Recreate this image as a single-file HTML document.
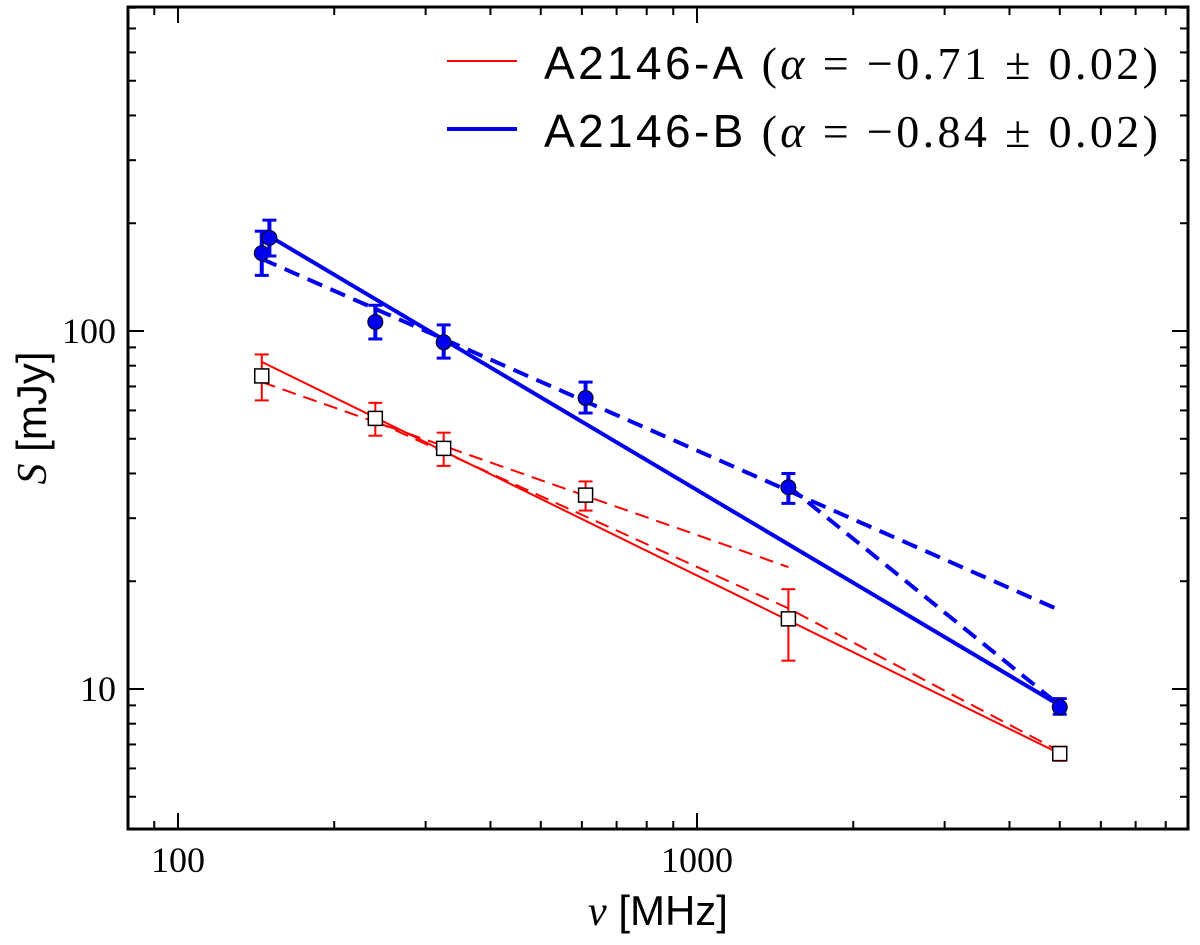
<!DOCTYPE html>
<html><head><meta charset="utf-8"><style>
body{margin:0;background:#fff;}
svg text{font-family:"Liberation Serif",serif;}
</style></head><body>
<svg id="chart" width="1200" height="940" xmlns="http://www.w3.org/2000/svg">
<g id="plot"></g>
</svg>
<script>
const freqs=[145,240,325,610,1500,5000];
const redVals=[74.9,57,47,34.8,15.7,6.6];
const redLo=[64,51,42,31.5,12,6.3];
const redHi=[86,63,52,38,19,6.9];
const blueFreqs=[145,150,240,325,610,1500,5000];
const blueVals=[165,182,106,93,65,36.6,8.9];
const blueLo=[143,162,95,84,59,33,8.5];
const blueHi=[190,204,118,104,72,40,9.4];
const redFit=[[145,82],[5000,6.6]];
const blueFit=[[150,184],[5000,9.0]];
const redDash1=[[145,72],[1500,21.9]];
const redDash2=[[240,56],[1500,16.8],[5000,6.7]];
const blueDash1=[[145,159],[5000,16.6]];
const blueDash2=[[1500,36.8],[5000,9.0]];
const xTicks=[100,1000];
const yTicks=[10,100];

const L=128,R=1188,T=7,B=829;
const X=f=>178+(Math.log10(f)-2)*519;
const Y=v=>331-(Math.log10(v)-2)*358;
const svg=document.getElementById('chart');
const NS='http://www.w3.org/2000/svg';
function mk(tag,attrs,parent){const e=document.createElementNS(NS,tag);for(const k in attrs)e.setAttribute(k,attrs[k]);(parent||svg).appendChild(e);return e;}
function poly(pts,color,w,dash,name){
 const e=mk('polyline',{points:pts.map(p=>X(p[0])+','+Y(p[1])).join(' '),fill:'none',stroke:color,'stroke-width':w});
 if(dash)e.setAttribute('stroke-dasharray',dash);
 
 
}
poly(redFit,'#f00',2,null,'red-fit-line');
poly(redDash1,'#f00',2,'14,8','red-dashed-fit-1');
poly(redDash2,'#f00',2,'14,8','red-dashed-fit-2');
poly(blueFit,'#0000ee',4,null,'blue-fit-line');
poly(blueDash1,'#0000ee',4,'16,9','blue-dashed-fit-1');
poly(blueDash2,'#0000ee',4,'16,9','blue-dashed-fit-2');
freqs.forEach((f,i)=>{
 const x=X(f);
 const g=mk('g',{});
 
 
 mk('line',{x1:x,x2:x,y1:Y(redLo[i]),y2:Y(redHi[i]),stroke:'#f00','stroke-width':2},g);
 mk('line',{x1:x-7,x2:x+7,y1:Y(redLo[i]),y2:Y(redLo[i]),stroke:'#f00','stroke-width':2},g);
 mk('line',{x1:x-7,x2:x+7,y1:Y(redHi[i]),y2:Y(redHi[i]),stroke:'#f00','stroke-width':2},g);
 mk('rect',{x:x-7,y:Y(redVals[i])-7,width:14,height:14,fill:'#fff',stroke:'#000','stroke-width':1.5},g);
});
blueFreqs.forEach((f,i)=>{
 const x=X(f);
 const g=mk('g',{});
 
 
 mk('line',{x1:x,x2:x,y1:Y(blueLo[i]),y2:Y(blueHi[i]),stroke:'#0000ee','stroke-width':4},g);
 mk('line',{x1:x-7,x2:x+7,y1:Y(blueLo[i]),y2:Y(blueLo[i]),stroke:'#0000ee','stroke-width':3},g);
 mk('line',{x1:x-7,x2:x+7,y1:Y(blueHi[i]),y2:Y(blueHi[i]),stroke:'#0000ee','stroke-width':3},g);
 mk('circle',{cx:x,cy:Y(blueVals[i]),r:7.5,fill:'#0000ee',stroke:'#000','stroke-width':1},g);
});
const fr=mk('rect',{x:L,y:T,width:R-L,height:B-T,fill:'none',stroke:'#000','stroke-width':3});


for(let d=10;d<=10000;d*=10){for(let m=1;m<10;m++){const f=d*m;const x=X(f);if(x<L||x>R)continue;const len=m==1?16:8;
 mk('line',{x1:x,x2:x,y1:B,y2:B-len,stroke:'#000','stroke-width':2});
 mk('line',{x1:x,x2:x,y1:T,y2:T+len,stroke:'#000','stroke-width':2});}}
for(let d=1;d<=1000;d*=10){for(let m=1;m<10;m++){const v=d*m;const y=Y(v);if(y<T||y>B)continue;const len=m==1?16:8;
 mk('line',{x1:L,x2:L+len,y1:y,y2:y,stroke:'#000','stroke-width':2});
 mk('line',{x1:R,x2:R-len,y1:y,y2:y,stroke:'#000','stroke-width':2});}}
xTicks.forEach(t=>{const e=mk('text',{x:X(t),y:872,'font-size':36,'text-anchor':'middle'});e.textContent=t;
 
 });
yTicks.forEach(t=>{const e=mk('text',{x:116,y:Y(t)+12,'font-size':36,'text-anchor':'end'});e.textContent=t;
 
 });
</script>
<svg width="1200" height="940" style="position:absolute;left:0;top:0" xmlns="http://www.w3.org/2000/svg">
<text x="658" y="925" font-size="42" text-anchor="middle"><tspan font-style="italic">ν</tspan><tspan font-family="Liberation Sans"> [MHz]</tspan></text>
<text transform="translate(46,418) rotate(-90)" font-size="42" text-anchor="middle"><tspan font-style="italic">S</tspan><tspan font-family="Liberation Sans"> [mJy]</tspan></text>
<g>
<line x1="447" x2="517" y1="61" y2="61" stroke="#f00" stroke-width="2"/>
<text x="544" y="79" font-size="46" textLength="614" lengthAdjust="spacing"><tspan font-family="Liberation Sans">A2146-A</tspan> (<tspan font-style="italic">α</tspan> = −0.71 ± 0.02)</text>
<line x1="447" x2="517" y1="129" y2="129" stroke="#0000ee" stroke-width="4"/>
<text x="544" y="147" font-size="46" textLength="614" lengthAdjust="spacing"><tspan font-family="Liberation Sans">A2146-B</tspan> (<tspan font-style="italic">α</tspan> = −0.84 ± 0.02)</text>
</g>
</svg>
</body></html>
